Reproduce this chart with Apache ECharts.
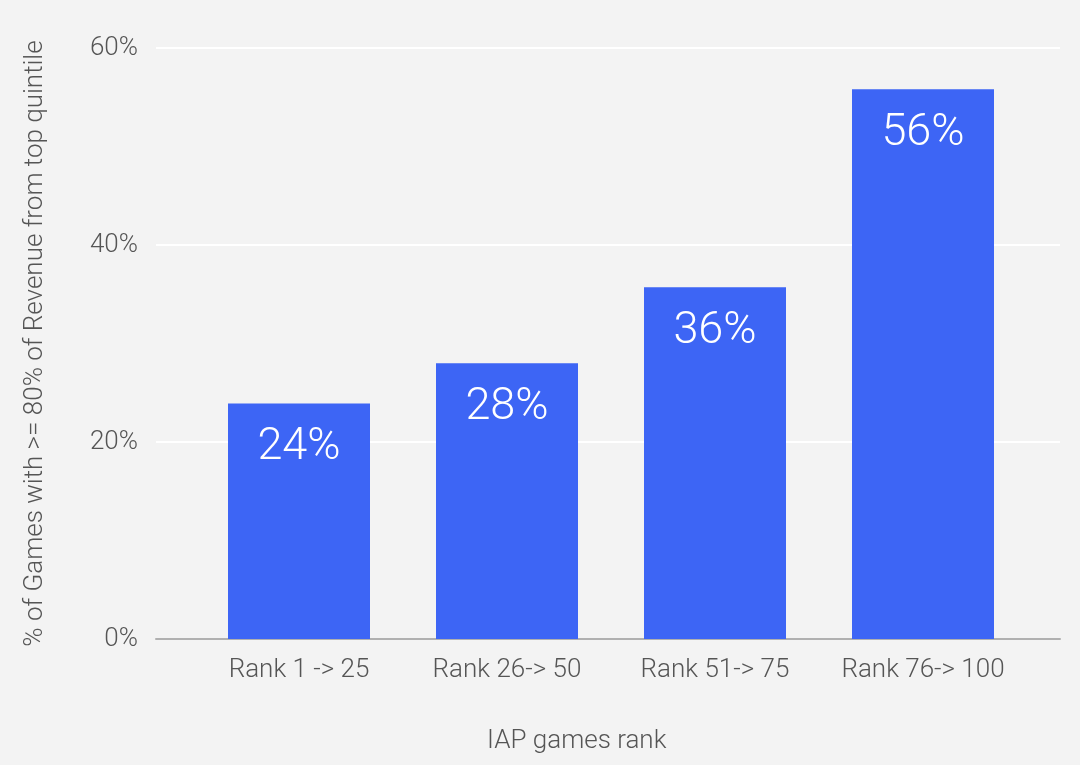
<!DOCTYPE html>
<html>
<head>
<meta charset="utf-8">
<script src="https://cdn.jsdelivr.net/npm/echarts@6/dist/echarts.min.js"></script>
<style>
html,body{margin:0;padding:0;background:#f3f3f3;}
#c{width:1080px;height:765px;}
</style>
</head>
<body>
<div id="c"></div>
<script>
var categories = ['Rank 1 -> 25', 'Rank 26-> 50', 'Rank 51-> 75', 'Rank 76-> 100'];
var values = [23.9, 28.0, 35.7, 55.8];
var yTicks = [0, 20, 40, 60];
var yAxisName = '% of Games with >= 80% of Revenue from top quintile';
var xAxisName = 'IAP games rank';

var chart = echarts.init(document.getElementById('c'));
var font = 'Roboto';
chart.setOption({
  backgroundColor: '#f3f3f3',
  animation: false,
  grid: [
    {left: 156, right: 20, top: 48, bottom: 126},
    {left: 195, right: 53, top: 48, bottom: 126}
  ],
  xAxis: [
    {gridIndex: 0, type: 'category', data: categories,
     axisLine: {show: true, lineStyle: {color: '#b0b0b0', width: 2}},
     axisTick: {show: false}, axisLabel: {show: false}},
    {gridIndex: 1, type: 'category', data: categories,
     axisLine: {show: false}, axisTick: {show: false},
     axisLabel: {color: '#555', fontFamily: font, fontWeight: 300, fontSize: 26, margin: 18,
       interval: 0, hideOverlap: false}}
  ],
  yAxis: [
    {gridIndex: 0, type: 'value', min: yTicks[0], max: yTicks[yTicks.length - 1], interval: 20,
     axisLine: {show: false}, axisTick: {show: false},
     splitLine: {show: true, lineStyle: {color: '#ffffff', width: 2}},
     axisLabel: {color: '#555', fontFamily: font, fontWeight: 300, fontSize: 26, margin: 18,
       formatter: function (v) { return v + '%'; }},
     name: yAxisName, nameLocation: 'middle', nameGap: 108, nameRotate: 90,
     nameTextStyle: {color: '#555', fontFamily: font, fontWeight: 300, fontSize: 26}},
    {gridIndex: 1, type: 'value', min: yTicks[0], max: yTicks[yTicks.length - 1], interval: 20,
     show: false, splitLine: {show: false}}
  ],
  graphic: [{
    type: 'text', left: 487, top: 728,
    style: {text: xAxisName, fill: '#555', font: '300 26px Roboto'}
  }],
  series: [{
    type: 'bar', xAxisIndex: 1, yAxisIndex: 1,
    data: values, barWidth: 142,
    itemStyle: {color: '#3d65f5'},
    label: {show: true, position: 'insideTop', distance: 22, color: '#ffffff',
      fontFamily: font, fontWeight: 300, fontSize: 45,
      formatter: function (p) { return Math.round(p.value) + '%'; }}
  }]
});
</script>
</body>
</html>
